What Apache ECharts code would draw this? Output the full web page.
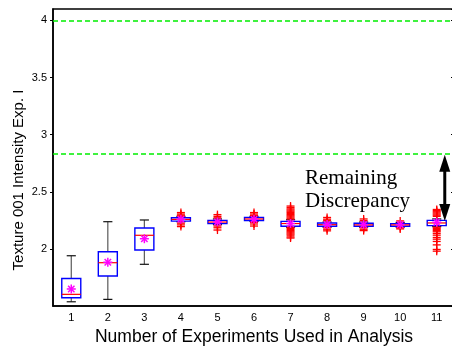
<!DOCTYPE html>
<html>
<head>
<meta charset="utf-8">
<script src="https://cdn.jsdelivr.net/npm/echarts@6/dist/echarts.min.js"></script>
<style>
  html, body { margin: 0; padding: 0; background: #fff; }
  #chart { width: 452px; height: 347px; }
</style>
</head>
<body>
<div id="chart"></div>
<script>
// Number of experiments used in the analysis
const categories = ['1', '2', '3', '4', '5', '6', '7', '8', '9', '10', '11'];

// Box statistics of the estimated texture intensity for each experiment count
const whiskerLow  = [1.537, 1.558, 1.865, 2.238, 2.212, 2.240, 2.190, 2.190, 2.190, 2.190, 2.195];
const quartile1   = [1.572, 1.762, 1.990, 2.243, 2.221, 2.248, 2.198, 2.198, 2.198, 2.198, 2.204];
const medians     = [1.602, 1.879, 2.119, 2.258, 2.235, 2.262, 2.222, 2.212, 2.210, 2.210, 2.227];
const quartile3   = [1.741, 1.975, 2.183, 2.272, 2.250, 2.276, 2.241, 2.227, 2.225, 2.221, 2.250];
const whiskerHigh = [1.940, 2.238, 2.253, 2.285, 2.262, 2.285, 2.255, 2.235, 2.235, 2.232, 2.262];
const means       = [1.649, 1.883, 2.089, 2.260, 2.236, 2.260, 2.222, 2.213, 2.213, 2.213, 2.233];

// Outlying estimates per experiment count
const outliers = [
  [],
  [],
  [],
  [2.318, 2.305, 2.295, 2.285, 2.225, 2.210, 2.195],
  [2.300, 2.285, 2.272, 2.200, 2.185, 2.165],
  [2.318, 2.305, 2.292, 2.232, 2.218, 2.200],
  [2.375, 2.362, 2.350, 2.340, 2.330, 2.320, 2.310, 2.300, 2.290, 2.280, 2.270, 2.262,
   2.190, 2.180, 2.170, 2.160, 2.150, 2.140, 2.130, 2.120, 2.105, 2.095],
  [2.275, 2.260, 2.248, 2.185, 2.172, 2.158],
  [2.262, 2.248, 2.185, 2.172, 2.160],
  [2.245, 2.185, 2.175],
  [2.345, 2.335, 2.325, 2.315, 2.305, 2.295, 2.285, 2.190, 2.180, 2.170, 2.160, 2.150,
   2.135, 2.120, 2.100, 2.085, 2.065, 2.035, 1.995, 1.980]
];

// Reference levels (dashed green) and the remaining discrepancy span
const referenceLevels = [4, 2.83];
const discrepancySpan = [2.245, 2.825];

// Y axis ticks
const yMin = 1.5, yMax = 4.1, yStep = 0.5;

const boxData = categories.map((c, i) =>
  [i, whiskerLow[i], quartile1[i], medians[i], quartile3[i], whiskerHigh[i]]);
const meanData = means.map((v, i) => [i, v]);
const outlierData = [];
outliers.forEach((list, i) => list.forEach(v => outlierData.push([i, v])));

const FONT = '"Liberation Sans", Arial, sans-serif';

function renderBox(params, api) {
  const i = api.value(0);
  const band = api.size([1, 0])[0];
  const half = band * 0.26;
  const cap = band * 0.125;
  const lo = api.coord([i, api.value(1)]);
  const q1 = api.coord([i, api.value(2)]);
  const md = api.coord([i, api.value(3)]);
  const q3 = api.coord([i, api.value(4)]);
  const hi = api.coord([i, api.value(5)]);
  const cx = lo[0];
  const wStyle = { stroke: '#5a5a5a', lineWidth: 1.2 };
  const cStyle = { stroke: '#111', lineWidth: 1.2 };
  return {
    type: 'group',
    children: [
      { type: 'line', shape: { x1: cx, y1: hi[1], x2: cx, y2: q3[1] }, style: wStyle },
      { type: 'line', shape: { x1: cx, y1: q1[1], x2: cx, y2: lo[1] }, style: wStyle },
      { type: 'line', shape: { x1: cx - cap, y1: hi[1], x2: cx + cap, y2: hi[1] }, style: cStyle },
      { type: 'line', shape: { x1: cx - cap, y1: lo[1], x2: cx + cap, y2: lo[1] }, style: cStyle },
      { type: 'rect', shape: { x: cx - half, y: q3[1], width: 2 * half, height: Math.max(q1[1] - q3[1], 1) },
        style: { fill: 'rgba(0,0,0,0)', stroke: '#0000ff', lineWidth: 1.4 } },
      { type: 'line', shape: { x1: cx - half, y1: md[1], x2: cx + half, y2: md[1] },
        style: { stroke: '#ff0000', lineWidth: 1.2 } }
    ]
  };
}

function renderPlus(params, api) {
  const p = api.coord([api.value(0), api.value(1)]);
  const s = 4;
  const st = { stroke: '#ff0000', lineWidth: 1.3 };
  return {
    type: 'group',
    children: [
      { type: 'line', shape: { x1: p[0] - s, y1: p[1], x2: p[0] + s, y2: p[1] }, style: st },
      { type: 'line', shape: { x1: p[0], y1: p[1] - s, x2: p[0], y2: p[1] + s }, style: st }
    ]
  };
}

function renderStar(params, api) {
  const p = api.coord([api.value(0), api.value(1)]);
  const s = 4.5, d = 3.2;
  const st = { stroke: '#ff00ff', lineWidth: 1.5 };
  return {
    type: 'group',
    children: [
      { type: 'line', shape: { x1: p[0] - s, y1: p[1], x2: p[0] + s, y2: p[1] }, style: st },
      { type: 'line', shape: { x1: p[0], y1: p[1] - s, x2: p[0], y2: p[1] + s }, style: st },
      { type: 'line', shape: { x1: p[0] - d, y1: p[1] - d, x2: p[0] + d, y2: p[1] + d }, style: st },
      { type: 'line', shape: { x1: p[0] - d, y1: p[1] + d, x2: p[0] + d, y2: p[1] - d }, style: st }
    ]
  };
}

function renderArrow(params, api) {
  const i = api.value(0);
  const band = api.size([1, 0])[0];
  const bot = api.coord([i, api.value(1)]);
  const top = api.coord([i, api.value(2)]);
  const x = bot[0] + band * 0.22;
  const headLen = 17, headHalf = 5.5;
  return {
    type: 'group',
    children: [
      { type: 'line', shape: { x1: x, y1: top[1] + headLen - 1, x2: x, y2: bot[1] - headLen + 1 },
        style: { stroke: '#000', lineWidth: 3 } },
      { type: 'polygon', shape: { points: [[x, top[1]], [x - headHalf, top[1] + headLen], [x + headHalf, top[1] + headLen]] },
        style: { fill: '#000' } },
      { type: 'polygon', shape: { points: [[x, bot[1]], [x - headHalf, bot[1] - headLen], [x + headHalf, bot[1] - headLen]] },
        style: { fill: '#000' } }
    ]
  };
}

const chart = echarts.init(document.getElementById('chart'), null, { renderer: 'canvas' });

chart.setOption({
  animation: false,
  backgroundColor: '#fff',
  grid: {
    left: 53, top: 9, width: 402, height: 297,
    containLabel: false,
    outerBoundsMode: 'none',
    show: true, borderColor: '#000', borderWidth: 1.5, backgroundColor: 'transparent'
  },
  xAxis: {
    type: 'category',
    data: categories,
    boundaryGap: true,
    name: 'Number of Experiments Used in Analysis',
    nameLocation: 'middle',
    nameGap: 15,
    nameTextStyle: { fontFamily: FONT, fontSize: 17.5, color: '#000' },
    axisLine: { lineStyle: { color: '#000', width: 1.5 } },
    axisTick: { show: false },
    axisLabel: { fontFamily: FONT, fontSize: 11, color: '#000', margin: 6 },
    splitLine: { show: false }
  },
  yAxis: [
    {
      type: 'value',
      min: yMin, max: yMax, interval: yStep,
      axisLine: { show: true, lineStyle: { color: '#000', width: 1.5 } },
      axisTick: { show: true, inside: false, length: 3, lineStyle: { color: '#000' } },
      axisLabel: { fontFamily: FONT, fontSize: 11, color: '#000', margin: 6,
        showMinLabel: false, showMaxLabel: false },
      splitLine: { show: false }
    },
    {
      type: 'value',
      position: 'right',
      min: yMin, max: yMax, interval: yStep,
      axisLine: { show: false },
      axisTick: { show: true, inside: true, length: 4, lineStyle: { color: '#000' } },
      axisLabel: { show: false },
      splitLine: { show: false }
    }
  ],
  series: [
    {
      type: 'custom',
      name: 'levels',
      data: [],
      renderItem: () => null,
      markLine: {
        silent: true,
        symbol: 'none',
        label: { show: false },
        lineStyle: { color: '#00ee00', type: [5, 3], width: 1.6 },
        data: referenceLevels.map(v => ({ yAxis: v }))
      }
    },
    {
      type: 'custom',
      name: 'boxes',
      renderItem: renderBox,
      encode: { x: 0, y: [1, 2, 3, 4, 5] },
      data: boxData,
      z: 3
    },
    {
      type: 'custom',
      name: 'outliers',
      renderItem: renderPlus,
      encode: { x: 0, y: 1 },
      data: outlierData,
      z: 4
    },
    {
      type: 'custom',
      name: 'means',
      renderItem: renderStar,
      encode: { x: 0, y: 1 },
      data: meanData,
      z: 5
    },
    {
      type: 'custom',
      name: 'discrepancy',
      renderItem: renderArrow,
      encode: { x: 0, y: [1, 2] },
      data: [[10, discrepancySpan[0], discrepancySpan[1]]],
      clip: false,
      z: 6
    }
  ],
  graphic: [
    {
      type: 'text',
      x: 18.5,
      y: 180,
      rotation: Math.PI / 2,
      style: {
        text: 'Texture 001 Intensity Exp. I',
        font: '15px "Liberation Sans", Arial, sans-serif',
        align: 'center',
        verticalAlign: 'middle',
        fill: '#000'
      }
    },
    {
      type: 'text',
      left: 305,
      top: 167,
      style: {
        text: 'Remaining\nDiscrepancy',
        font: '21px "Liberation Serif", "Times New Roman", serif',
        lineHeight: 23,
        fill: '#000'
      }
    }
  ]
});
</script>
</body>
</html>
